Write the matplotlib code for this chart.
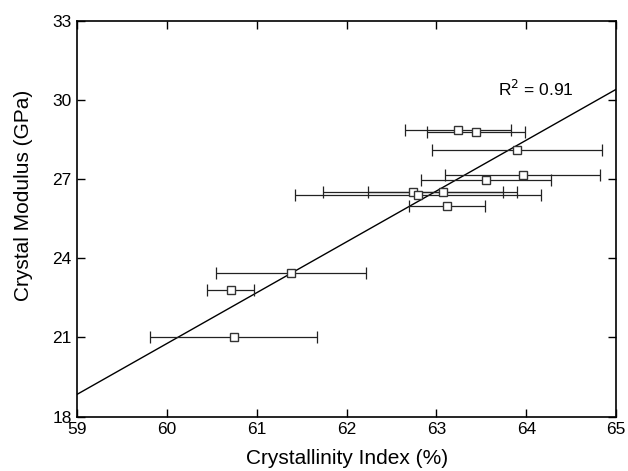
import matplotlib.pyplot as plt

plt.rcParams['font.family'] = ['Liberation Sans', 'DejaVu Sans']

# === DATA ===
crystallinity = [63.24, 63.44, 63.90, 63.96, 63.55, 62.74, 63.07, 62.79, 63.12, 61.38, 60.71, 60.74]
modulus = [28.85, 28.77, 28.10, 27.15, 26.95, 26.50, 26.52, 26.40, 26.00, 23.45, 22.80, 21.02]
x_err = [0.59, 0.545, 0.945, 0.86, 0.725, 1.005, 0.83, 1.37, 0.425, 0.84, 0.26, 0.935]

fit_x = [59, 65]
fit_y = [18.85, 30.40]
r2_label = "R$^2$ = 0.91"

x_ticks = [59, 60, 61, 62, 63, 64, 65]
y_ticks = [18, 21, 24, 27, 30, 33]

# === PLOT ===
fig = plt.figure(figsize=(6.28, 4.71), dpi=100)
ax = fig.add_axes([0.123, 0.1153, 0.858, 0.8407])

ax.plot(fit_x, fit_y, color='black', lw=1.0, zorder=2)
ax.errorbar(crystallinity, modulus, xerr=x_err, fmt='none', ecolor='#222222',
            elinewidth=0.9, capsize=4, capthick=0.9, zorder=3)
ax.plot(crystallinity, modulus, 's', ms=6, mfc='white', mec='#333333', mew=1.0, zorder=4)

ax.text(63.68, 30.15, r2_label, fontsize=12.5)

ax.set_xlim(59, 65)
ax.set_ylim(18, 33)
ax.set_xticks(x_ticks)
ax.set_yticks(y_ticks)
ax.tick_params(direction='in', length=6, width=1.0, labelsize=12.5,
               top=True, right=True, pad=4)
for s in ax.spines.values():
    s.set_linewidth(1.2)

ax.set_xlabel('Crystallinity Index (%)', fontsize=15)
ax.set_ylabel('Crystal Modulus (GPa)', fontsize=15)
ax.xaxis.set_label_coords(0.5, -0.082)
ax.yaxis.set_label_coords(-0.083, 0.56)

plt.savefig("out.png", dpi=100)
